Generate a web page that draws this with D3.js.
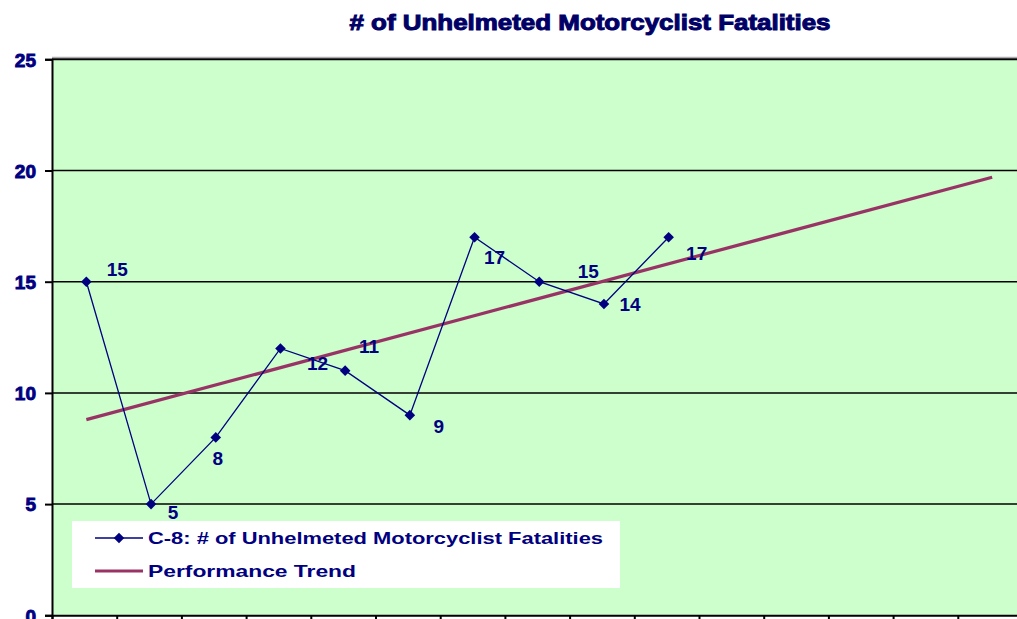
<!DOCTYPE html>
<html>
<head>
<meta charset="utf-8">
<script src="https://cdn.jsdelivr.net/npm/d3@7"></script>
<style>
  body { margin: 0; background: #fff; }
  text { font-family: "Liberation Sans", Arial, sans-serif; }
</style>
</head>
<body>
<div id="chart"></div>
<script>
// categories (x labels are cut off in the picture)
var years = ["2000","2001","2002","2003","2004","2005","2006","2007","2008","2009","2010","2011","2012","2013","2014"];
var fatalities = [15, 5, 8, 12, 11, 9, 17, 15, 14, 17];
// performance trend: straight line, first and last category
var trendYears = ["2000", "2014"];
var trendValues = [8.8, 19.7];
var yTicks = [0, 5, 10, 15, 20, 25];
// manual label nudges (dx, dy) like the moved excel labels
var labelOffsets = [[31, -13], [22, 8], [2, 21], [37, 15], [24, -25], [29, 11], [20, 20], [49, -11], [26, 0], [28, 16]];

var W = 1017, H = 619;
var navy = "#000080";
var plotLeft = 52, plotTop = 59.3, plotBottom = 615.3, step = 64.7;

var svg = d3.select("#chart").append("svg").attr("width", W).attr("height", H);

var x = d3.scaleLinear().domain([0, years.length]).range([plotLeft, plotLeft + years.length * step]);
var y = d3.scaleLinear().domain([0, 25]).range([plotBottom, plotTop]);
function cx(yr) { return x(years.indexOf(yr) + 0.5) + 2; }

// plot area
svg.append("rect").attr("x", plotLeft).attr("y", plotTop)
    .attr("width", x.range()[1] - plotLeft).attr("height", plotBottom - plotTop)
    .style("fill", "#CCFFCC");

// gridlines
svg.selectAll(".grid").data(yTicks.slice(1)).enter().append("line")
    .attr("x1", plotLeft).attr("x2", W)
    .attr("y1", function (d) { return y(d); }).attr("y2", function (d) { return y(d); })
    .style("stroke", "#000").style("stroke-width", function (d) { return d === 25 ? 2 : 1.5; });
svg.append("line").attr("x1", plotLeft).attr("x2", W).attr("y1", plotTop - 2).attr("y2", plotTop - 2)
    .style("stroke", "#999").style("stroke-width", 1);

// y axis
var yAxis = svg.append("g").attr("transform", "translate(" + plotLeft + ",0)")
    .call(d3.axisLeft(y).tickValues(yTicks).tickSize(7).tickPadding(9));
yAxis.select(".domain").style("stroke", "#000").style("stroke-width", 2);
yAxis.selectAll(".tick line").style("stroke", "#000").style("stroke-width", 2);
yAxis.selectAll(".tick text").attr("dy", "0.36em").style("font-size", "19px").style("font-weight", "bold")
    .style("fill", navy).style("stroke", navy).style("stroke-width", 0.9)
    .style("font-family", "'Liberation Sans', Arial, sans-serif");

// x axis (tick marks at category boundaries)
var xAxis = svg.append("g").attr("transform", "translate(0," + plotBottom + ")")
    .call(d3.axisBottom(x).tickValues(d3.range(years.length + 1)).tickSize(6).tickFormat(""));
xAxis.select(".domain").style("stroke", "#000").style("stroke-width", 2);
xAxis.selectAll(".tick line").style("stroke", "#000").style("stroke-width", 2);

// trend line
var trendLine = d3.line().x(function (d, i) { return cx(trendYears[i]); }).y(function (d) { return y(d); });
svg.append("path").datum(trendValues).attr("d", trendLine)
    .style("fill", "none").style("stroke", "#993366").style("stroke-width", 3.2);

// series line
var line = d3.line().x(function (d, i) { return cx(years[i]); }).y(function (d) { return y(d); });
svg.append("path").datum(fatalities).attr("d", line)
    .style("fill", "none").style("stroke", navy).style("stroke-width", 1.3);

// square diamond markers (excel style)
var diamond = d3.symbol().type(d3.symbolSquare).size(56);
svg.selectAll(".pt").data(fatalities).enter().append("path")
    .attr("d", diamond)
    .attr("transform", function (d, i) { return "translate(" + cx(years[i]) + "," + y(d) + ") rotate(45)"; })
    .style("fill", navy);

// data labels
svg.selectAll(".lbl").data(fatalities).enter().append("text")
    .text(function (d) { return d; })
    .attr("x", function (d, i) { return cx(years[i]) + labelOffsets[i][0]; })
    .attr("y", function (d, i) { return y(d) + labelOffsets[i][1]; })
    .attr("dy", "0.36em")
    .style("text-anchor", "middle").style("font-size", "19px").style("font-weight", "bold").style("fill", navy);

// title
svg.append("text").text("# of Unhelmeted Motorcyclist Fatalities")
    .attr("x", 590).attr("y", 30).style("text-anchor", "middle")
    .attr("textLength", 481).attr("lengthAdjust", "spacingAndGlyphs")
    .style("font-size", "22px").style("font-weight", "bold").style("fill", "#000066")
    .style("stroke", "#000066").style("stroke-width", 1);

// legend
var legend = svg.append("g").attr("transform", "translate(72,521)");
legend.append("rect").attr("width", 548).attr("height", 67).style("fill", "#fff");
var legendItems = [
    {label: "C-8: # of Unhelmeted Motorcyclist Fatalities", color: navy, width: 1.3, marker: true, y: 17, len: 455},
    {label: "Performance Trend", color: "#993366", width: 3.2, marker: false, y: 50, len: 208}
];
var li = legend.selectAll(".li").data(legendItems).enter().append("g")
    .attr("transform", function (d) { return "translate(0," + d.y + ")"; });
li.append("line").attr("x1", 23).attr("x2", 71).attr("y1", 0).attr("y2", 0)
    .style("stroke", function (d) { return d.color; }).style("stroke-width", function (d) { return d.width; });
li.filter(function (d) { return d.marker; }).append("path").attr("d", diamond)
    .attr("transform", "translate(47,0) rotate(45)").style("fill", navy);
li.append("text").text(function (d) { return d.label; })
    .attr("x", 76).attr("dy", "0.36em")
    .attr("textLength", function (d) { return d.len; }).attr("lengthAdjust", "spacingAndGlyphs")
    .style("font-size", "17px").style("font-weight", "bold").style("fill", navy);
</script>
</body>
</html>
